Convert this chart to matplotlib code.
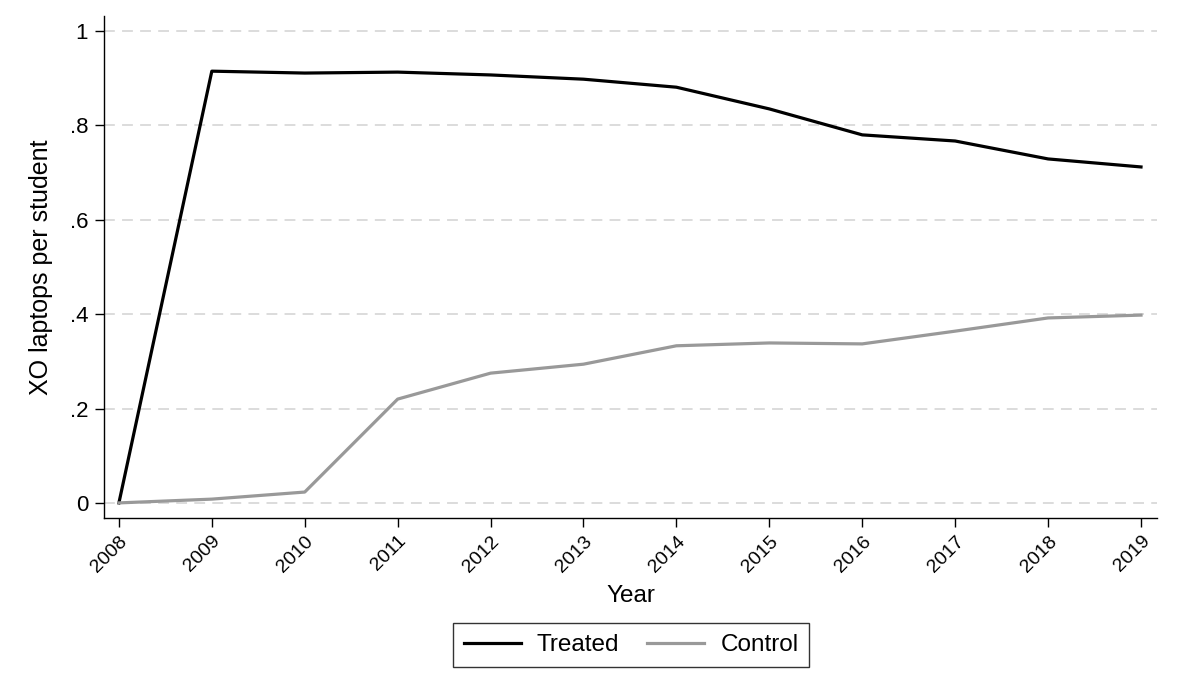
import numpy as np
import matplotlib.pyplot as plt

plt.rcParams['font.family'] = ['Liberation Sans', 'DejaVu Sans']

years = list(range(2008, 2020))
treated = [0.0, 0.915, 0.911, 0.913, 0.907, 0.898, 0.881, 0.835, 0.780, 0.767, 0.729, 0.712]
control = [0.0, 0.008, 0.023, 0.220, 0.275, 0.294, 0.333, 0.339, 0.337, 0.364, 0.392, 0.398]
yticks = [0, 0.2, 0.4, 0.6, 0.8, 1.0]
ytick_labels = ['0', '.2', '.4', '.6', '.8', '1']

fig = plt.figure(figsize=(12, 6.94), dpi=100)
ax = fig.add_axes([0.0867, 0.2536, 0.8773, 0.7234])

for y in yticks:
    ax.axhline(y, color='#d9d9d9', lw=1.3, ls=(0, (6, 4)), zorder=0)

ax.plot(years, treated, color='black', lw=2.3, label='Treated')
ax.plot(years, control, color='#999999', lw=2.3, label='Control')

ax.set_xlim(2007.84, 2019.17)
ax.set_ylim(-0.032, 1.032)
ax.set_yticks(yticks)
ax.set_yticklabels(ytick_labels)
ax.set_xticks(years)
ax.set_xticklabels([str(y) for y in years], rotation=45, ha='right', rotation_mode='anchor')
ax.tick_params(axis='both', length=6.5, width=1, color='black', pad=5)
ax.tick_params(axis='y', labelsize=16)
ax.tick_params(axis='x', labelsize=14, pad=4)

for s in ['top', 'right']:
    ax.spines[s].set_visible(False)
for s in ['left', 'bottom']:
    ax.spines[s].set_linewidth(1)

ax.set_xlabel('Year', fontsize=17.5, labelpad=7)
ax.set_ylabel('XO laptops per student', fontsize=18, labelpad=12)

leg = fig.legend(loc='center', bbox_to_anchor=(0.526, 0.0706), ncol=2, fontsize=17.5,
                 frameon=True, fancybox=False, edgecolor='black', handlelength=2.34,
                 handletextpad=0.66, columnspacing=1.15, borderpad=0.45)
leg.get_frame().set_linewidth(1)

fig.savefig('out.png', dpi=100)
